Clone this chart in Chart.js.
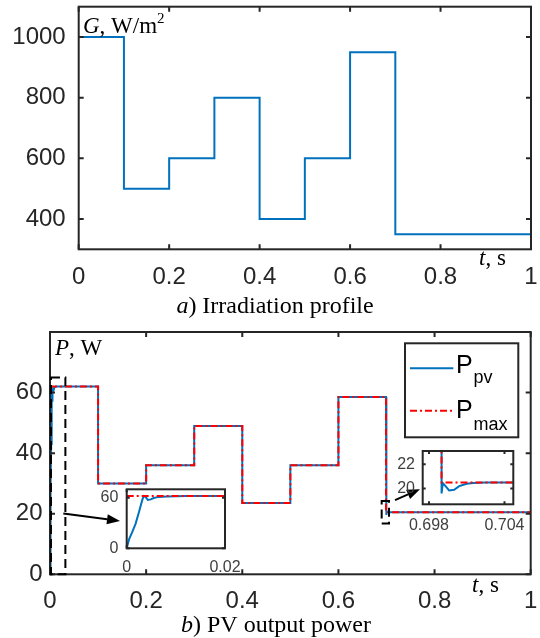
<!DOCTYPE html>
<html>
<head>
    <meta charset="UTF-8">
    <title>Irradiation profile and PV output power</title>
    <script src="https://cdn.jsdelivr.net/npm/chart.js"></script>
    <style>
        body { margin: 0; background: #fff; }
        #wrap { position: relative; width: 540px; height: 638px; }
        canvas { position: absolute; }
    </style>
</head>
<body>
<div id="wrap">
    <canvas id="irr" width="540" height="320" style="left:0;top:0"></canvas>
    <canvas id="pow" width="540" height="318" style="left:0;top:320px"></canvas>
    <canvas id="zoomA" width="150" height="100" style="left:90px;top:478px"></canvas>
    <canvas id="zoomB" width="145" height="96" style="left:392px;top:440px"></canvas>
</div>

<script>
    // tick labels
    var timeTicks = [0, 0.2, 0.4, 0.6, 0.8, 1];
    var irrTicks = [400, 600, 800, 1000];
    var powTicks = [0, 20, 40, 60];
    var zoomATimeTicks = [0, 0.02];
    var zoomAPowTicks = [0, 60];
    var zoomBTimeTicks = [0.698, 0.704];
    var zoomBPowTicks = [20, 22];

    // irradiation steps, W/m2 (value holds until the next time)
    var irrTime = [0, 0.1, 0.2, 0.3, 0.4, 0.5, 0.6, 0.7, 1];
    var irrValue = [1000, 500, 600, 800, 400, 600, 950, 350, 350];

    // maximum available power, W
    var pmaxTime = [0, 0.1, 0.2, 0.3, 0.4, 0.5, 0.6, 0.699, 1];
    var pmaxValue = [62, 30, 36, 49, 23.5, 36, 58.5, 20.5, 20.5];

    // measured PV power, W (start-up and the 0.7 s step transients)
    var ppvTime = [0, 0.0005, 0.0011, 0.0018, 0.0025, 0.0032, 0.0035, 0.0038, 0.0043, 0.0049, 0.0055, 0.0065,
        0.0082, 0.012, 0.1, 0.1, 0.2, 0.2, 0.3, 0.3, 0.4, 0.4, 0.5, 0.5, 0.6, 0.6, 0.699, 0.699,
        0.6991, 0.6994, 0.6996, 0.7, 0.7004, 0.701, 0.7015, 0.7025, 1];
    var ppvValue = [0, 10.9, 19, 29, 43, 58, 62, 61.3, 57.3, 58, 59.7, 61,
        61.5, 62, 62, 30, 30, 36, 36, 49, 49, 23.5, 23.5, 36, 36, 58.5, 58.5, 19.6,
        20.45, 20.1, 19.85, 19.9, 20.2, 20.4, 20.46, 20.5, 20.5];

    var INK = '#262626';
    var SANS = '"Liberation Sans", Arial, Helvetica, sans-serif';
    var SERIF = '"Liberation Serif", "Times New Roman", serif';
    var BLUE = '#0072BD';
    var RED = '#FF0000';

    function xy(ts, vs) {
        return ts.map(function (t, i) { return { x: t, y: vs[i] }; });
    }

    // linear axis with fixed ticks and a fixed footprint
    function linAxis(o) {
        return {
            type: 'linear',
            min: o.min,
            max: o.max,
            grid: { display: false, drawTicks: false },
            border: { display: false },
            ticks: {
                color: o.color || INK,
                font: { family: SANS, size: o.size },
                padding: o.pad,
                maxRotation: 0,
                autoSkip: false,
                callback: function (v) { return String(v); }
            },
            afterBuildTicks: function (s) {
                s.ticks = o.ticks.map(function (v) { return { value: v }; });
            },
            afterFit: function (s) {
                if (s.isHorizontal()) s.height = o.room; else s.width = o.room;
                s.paddingLeft = s.paddingRight = s.paddingTop = s.paddingBottom = 0;
            }
        };
    }

    // white plot area, box and inward ticks on all four sides
    function framePlugin(tickLen, lineWidth) {
        return {
            id: 'frame',
            beforeDraw: function (chart) {
                var a = chart.chartArea, ctx = chart.ctx;
                ctx.save();
                ctx.fillStyle = '#fff';
                ctx.fillRect(a.left, a.top, a.right - a.left, a.bottom - a.top);
                ctx.restore();
            },
            afterDatasetsDraw: function (chart) {
                var a = chart.chartArea, ctx = chart.ctx;
                var xs = chart.scales.x, ys = chart.scales.y;
                ctx.save();
                ctx.strokeStyle = INK;
                ctx.lineWidth = lineWidth;
                ctx.beginPath();
                xs.ticks.forEach(function (t) {
                    var px = xs.getPixelForValue(t.value);
                    ctx.moveTo(px, a.bottom); ctx.lineTo(px, a.bottom - tickLen);
                    ctx.moveTo(px, a.top); ctx.lineTo(px, a.top + tickLen);
                });
                ys.ticks.forEach(function (t) {
                    var py = ys.getPixelForValue(t.value);
                    ctx.moveTo(a.left, py); ctx.lineTo(a.left + tickLen, py);
                    ctx.moveTo(a.right, py); ctx.lineTo(a.right - tickLen, py);
                });
                ctx.stroke();
                ctx.strokeRect(a.left, a.top, a.right - a.left, a.bottom - a.top);
                ctx.restore();
            }
        };
    }

    // mixed italic / superscript / subscript text
    function drawRich(ctx, x, y, parts, align) {
        var w = 0;
        parts.forEach(function (p) {
            ctx.font = (p.italic ? 'italic ' : '') + p.size + 'px ' + (p.family || SERIF);
            p.w = ctx.measureText(p.text).width;
            w += p.w;
        });
        if (align === 'center') x -= w / 2;
        parts.forEach(function (p) {
            ctx.font = (p.italic ? 'italic ' : '') + p.size + 'px ' + (p.family || SERIF);
            ctx.fillText(p.text, x, y + (p.dy || 0));
            x += p.w;
        });
    }

    function arrow(ctx, x0, y0, x1, y1) {
        var ang = Math.atan2(y1 - y0, x1 - x0), len = 13, half = 5;
        var bx = x1 - len * Math.cos(ang), by = y1 - len * Math.sin(ang);
        ctx.beginPath();
        ctx.moveTo(x0, y0);
        ctx.lineTo(bx, by);
        ctx.stroke();
        ctx.beginPath();
        ctx.moveTo(x1, y1);
        ctx.lineTo(bx + half * Math.sin(ang), by - half * Math.cos(ang));
        ctx.lineTo(bx - half * Math.sin(ang), by + half * Math.cos(ang));
        ctx.closePath();
        ctx.fill();
    }

    var baseOptions = {
        responsive: false,
        animation: false,
        devicePixelRatio: 1,
        events: [],
        plugins: { legend: { display: false }, tooltip: { enabled: false } }
    };

    function opts(extra) {
        return Object.assign({}, baseOptions, extra);
    }

    // a) irradiation profile
    var irrLabels = {
        id: 'irrLabels',
        afterDraw: function (chart) {
            var ctx = chart.ctx;
            ctx.save();
            ctx.fillStyle = '#000';
            drawRich(ctx, 83, 33, [
                { text: 'G', italic: true, size: 23 },
                { text: ', W/m', size: 23 },
                { text: '2', size: 15, dy: -10 }
            ]);
            drawRich(ctx, 479, 265, [
                { text: 't', italic: true, size: 23 },
                { text: ', s', size: 23 }
            ]);
            drawRich(ctx, 275, 313, [
                { text: 'a', italic: true, size: 24 },
                { text: ') Irradiation profile', size: 24 }
            ], 'center');
            ctx.restore();
        }
    };

    new Chart(document.getElementById('irr'), {
        type: 'line',
        data: {
            datasets: [{
                data: xy(irrTime, irrValue),
                borderColor: BLUE,
                borderWidth: 2,
                pointRadius: 0,
                stepped: 'before',
                fill: false
            }]
        },
        options: opts({
            layout: { padding: { left: 0, top: 6.7, right: 9, bottom: 30.7 } },
            scales: {
                x: linAxis({ min: 0, max: 1, ticks: timeTicks, size: 24, pad: 14, room: 40 }),
                y: linAxis({ min: 300, max: 1100, ticks: irrTicks, size: 24, pad: 13, room: 78.7 })
            }
        }),
        plugins: [framePlugin(5, 2), irrLabels]
    });

    // b) PV output power
    var zoomRectA = { t0: 0.002, t1: 0.032, p0: 0, p1: 65 };
    var zoomRectB = { t0: 0.690, t1: 0.7052, p0: 16.8, p1: 24.2 };
    var arrowA = { t0: 0.0277, p0: 20.1, t1: 0.1456, p1: 17.6 };
    var arrowB = { t0: 0.7177, p0: 24.5, t1: 0.7697, p1: 28.1 };

    var powDecor = {
        id: 'powDecor',
        afterDraw: function (chart) {
            var ctx = chart.ctx, xs = chart.scales.x, ys = chart.scales.y;
            ctx.save();

            // dashed zoom regions
            ctx.strokeStyle = '#000';
            ctx.lineWidth = 2;
            ctx.setLineDash([9, 5]);
            [zoomRectA, zoomRectB].forEach(function (r) {
                var x0 = xs.getPixelForValue(r.t0), x1 = xs.getPixelForValue(r.t1);
                var y0 = ys.getPixelForValue(r.p0), y1 = ys.getPixelForValue(r.p1);
                ctx.strokeRect(x0, y1, x1 - x0, y0 - y1);
            });
            ctx.setLineDash([]);

            // arrows to the insets
            ctx.fillStyle = '#000';
            [arrowA, arrowB].forEach(function (a) {
                arrow(ctx, xs.getPixelForValue(a.t0), ys.getPixelForValue(a.p0),
                    xs.getPixelForValue(a.t1), ys.getPixelForValue(a.p1));
            });

            // legend
            var ds = chart.data.datasets;
            ctx.fillStyle = '#fff';
            ctx.fillRect(405, 23.3, 113.3, 94);
            ctx.strokeStyle = INK;
            ctx.lineWidth = 2;
            ctx.strokeRect(405, 23.3, 113.3, 94);
            [[ds[1], 48.3, 'pv', 52.7, 63.3], [ds[0], 90.7, 'max', 98.3, 110]].forEach(function (row) {
                var d = row[0];
                ctx.strokeStyle = d.borderColor;
                ctx.lineWidth = d.borderWidth;
                ctx.setLineDash(d.borderDash || []);
                ctx.beginPath();
                ctx.moveTo(410, row[1]);
                ctx.lineTo(453.3, row[1]);
                ctx.stroke();
                ctx.setLineDash([]);
                ctx.fillStyle = '#000';
                ctx.font = '25px ' + SANS;
                ctx.fillText('P', 456, row[3]);
                ctx.font = '18px ' + SANS;
                ctx.fillText(row[2], 473.5, row[4]);
            });

            // axis captions and title
            ctx.fillStyle = '#000';
            drawRich(ctx, 55, 35, [
                { text: 'P', italic: true, size: 23 },
                { text: ', W', size: 23 }
            ]);
            drawRich(ctx, 472, 271.7, [
                { text: 't', italic: true, size: 23 },
                { text: ', s', size: 23 }
            ]);
            drawRich(ctx, 276, 311.5, [
                { text: 'b', italic: true, size: 24 },
                { text: ') PV output power', size: 24 }
            ], 'center');
            ctx.restore();
        }
    };

    function powerSets(width, clip) {
        return [{
            label: 'Pmax',
            data: xy(pmaxTime, pmaxValue),
            borderColor: RED,
            borderWidth: width,
            borderDash: [7, 3, 2, 3],
            pointRadius: 0,
            stepped: 'before',
            fill: false,
            clip: clip
        }, {
            label: 'Ppv',
            data: xy(ppvTime, ppvValue),
            borderColor: BLUE,
            borderWidth: width,
            pointRadius: 0,
            fill: false,
            clip: clip
        }];
    }

    new Chart(document.getElementById('pow'), {
        type: 'line',
        data: { datasets: powerSets(2, 1) },
        options: opts({
            layout: { padding: { left: 0, top: 12, right: 9.3, bottom: 23.7 } },
            scales: {
                x: linAxis({ min: 0, max: 1, ticks: timeTicks, size: 24, pad: 13, room: 40 }),
                y: linAxis({ min: 0, max: 80, ticks: powTicks, size: 24, pad: 7.5, room: 50 })
            }
        }),
        plugins: [framePlugin(5, 2), powDecor]
    });

    // inset: start-up
    new Chart(document.getElementById('zoomA'), {
        type: 'line',
        data: { datasets: powerSets(2, 0) },
        options: opts({
            layout: { padding: { left: 0, top: 11.3, right: 15, bottom: 0 } },
            scales: {
                x: linAxis({ min: 0, max: 0.02, ticks: zoomATimeTicks, size: 16, pad: 9.5, room: 29.7, color: '#404040' }),
                y: linAxis({ min: 0, max: 70, ticks: zoomAPowTicks, size: 16, pad: 8.4, room: 36.7, color: '#404040' })
            }
        }),
        plugins: [framePlugin(3, 2)]
    });

    // inset: step at 0.7 s
    new Chart(document.getElementById('zoomB'), {
        type: 'line',
        data: { datasets: powerSets(2, 0) },
        options: opts({
            layout: { padding: { left: 0, top: 11, right: 23.7, bottom: 0 } },
            scales: {
                x: linAxis({ min: 0.6975, max: 0.7047, ticks: zoomBTimeTicks, size: 16, pad: 11.5, room: 31.7, color: '#404040' }),
                y: linAxis({ min: 18.7, max: 23.1, ticks: zoomBPowTicks, size: 16, pad: 7.7, room: 30.7, color: '#404040' })
            }
        }),
        plugins: [framePlugin(3, 2)]
    });
</script>
</body>
</html>
